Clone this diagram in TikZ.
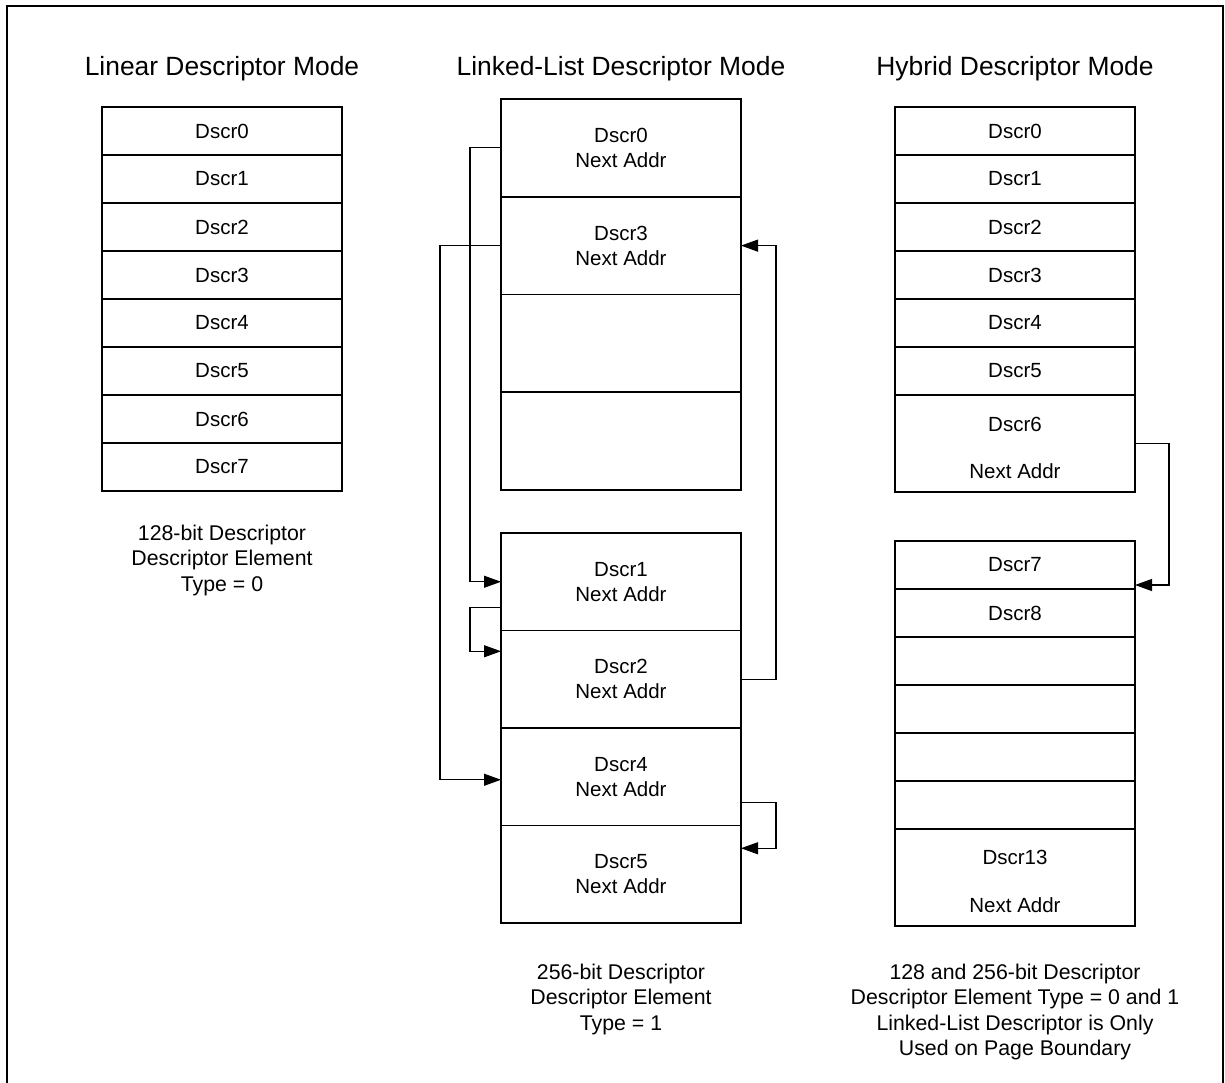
\documentclass[tikz,border=0pt]{standalone}
\usepackage{fontspec}
\setmainfont{Liberation Sans}
\usetikzlibrary{arrows.meta}
\begin{document}
\begin{tikzpicture}[x=1pt,y=-1pt,
  cell/.style={draw, line width=1.9pt, minimum width=240pt, minimum height=#1, anchor=north west,
    inner sep=0pt, outer sep=0pt, align=center, font=\fontsize{20.5}{25}\selectfont},
  cell/.default=48pt,
  outer/.style={line width=2.7pt},
  conn/.style={line width=1.1pt},
  arr/.style={conn, -{Triangle[length=17pt,width=12pt]}},
  title/.style={font=\fontsize{26.4}{30}\selectfont, inner sep=0pt, anchor=base},
  caption/.style={font=\fontsize{21.3}{25.5}\selectfont, align=center, inner sep=0pt},
  txt/.style={font=\fontsize{20.5}{25}\selectfont, inner sep=0pt}]

\useasboundingbox (0,0) rectangle (1225,1082);
\draw[line width=2pt] (7,1100) -- (7,6) -- (1223,6) -- (1223,1100);

% ---------- Linear ----------
\node[title] (t1) at (222,75) {Linear Descriptor Mode};
\node[cell] (a0) at (102,107) {Dscr0};
\node[cell] (a1) at (a0.south west) {Dscr1};
\node[cell] (a2) at (a1.south west) {Dscr2};
\node[cell] (a3) at (a2.south west) {Dscr3};
\node[cell] (a4) at (a3.south west) {Dscr4};
\node[cell] (a5) at (a4.south west) {Dscr5};
\node[cell] (a6) at (a5.south west) {Dscr6};
\node[cell] (a7) at (a6.south west) {Dscr7};
\draw[outer] (a0.north west) rectangle (a7.south east);
\node[caption] (c1) at (222,560) {128-bit Descriptor\\Descriptor Element\\Type = 0};

% ---------- Linked list ----------
\node[title] (t2) at (621,75) {Linked-List Descriptor Mode};
\node[cell=97.75pt] (l0) at (501,99) {Dscr0\\Next Addr};
\node[cell=97.75pt] (l3) at (l0.south west) {Dscr3\\Next Addr};
\node[cell=97.75pt] (le1) at (l3.south west) {};
\node[cell=97.75pt] (le2) at (le1.south west) {};
\draw[outer] (l0.north west) rectangle (le2.south east);

\node[cell=97.5pt] (l1) at (501,533) {Dscr1\\Next Addr};
\node[cell=97.5pt] (l2) at (l1.south west) {Dscr2\\Next Addr};
\node[cell=97.5pt] (l4) at (l2.south west) {Dscr4\\Next Addr};
\node[cell=97.5pt] (l5) at (l4.south west) {Dscr5\\Next Addr};
\draw[outer] (l1.north west) rectangle (l5.south east);
\node[caption] (c2) at (621,999) {256-bit Descriptor\\Descriptor Element\\Type = 1};

\draw[arr] (l0.west) -- ++(-31,0) |- (l1.west);
\draw[arr] ([yshift=-26pt]l1.west) -- ++(-31,0) |- ([yshift=28pt]l2.west);
\draw[arr] (l3.west) -- ++(-61,0) |- ([yshift=-3pt]l4.west);
\draw[arr] (l2.east) -- ++(35,0) |- (l3.east);
\draw[arr] ([yshift=-26pt]l4.east) -- ++(35,0) |- ([yshift=26pt]l5.east);

% ---------- Hybrid ----------
\node[title] (t3) at (1015,75) {Hybrid Descriptor Mode};
\node[cell] (h0) at (895,107) {Dscr0};
\node[cell] (h1) at (h0.south west) {Dscr1};
\node[cell] (h2) at (h1.south west) {Dscr2};
\node[cell] (h3) at (h2.south west) {Dscr3};
\node[cell] (h4) at (h3.south west) {Dscr4};
\node[cell] (h5) at (h4.south west) {Dscr5};
\node[cell=97pt] (h6) at (h5.south west) {};
\node[txt] (h6a) at (1015,424) {Dscr6};
\node[txt] (h6b) at (1015,471) {Next Addr};
\draw[outer] (h0.north west) rectangle (h6.south east);
\draw[outer] (h5.south west) -- (h5.south east);

\node[cell] (h7) at (895,541) {Dscr7};
\node[cell] (h8) at (h7.south west) {Dscr8};
\node[cell] (he1) at (h8.south west) {};
\node[cell] (he2) at (he1.south west) {};
\node[cell] (he3) at (he2.south west) {};
\node[cell] (he4) at (he3.south west) {};
\node[cell=97pt] (h13) at (he4.south west) {};
\node[txt] (h13a) at (1015,857) {Dscr13};
\node[txt] (h13b) at (1015,905) {Next Addr};
\draw[outer] (h7.north west) rectangle (h13.south east);
\draw[outer] (he4.south west) -- (he4.south east);
\node[caption] (c3) at (1015,1012) {128 and 256-bit Descriptor\\Descriptor Element Type = 0 and 1\\Linked-List Descriptor is Only\\Used on Page Boundary};

\draw[arr] (h6.east) -- ++(34,0) |- ([yshift=-20pt]h7.east);
\end{tikzpicture}
\end{document}
